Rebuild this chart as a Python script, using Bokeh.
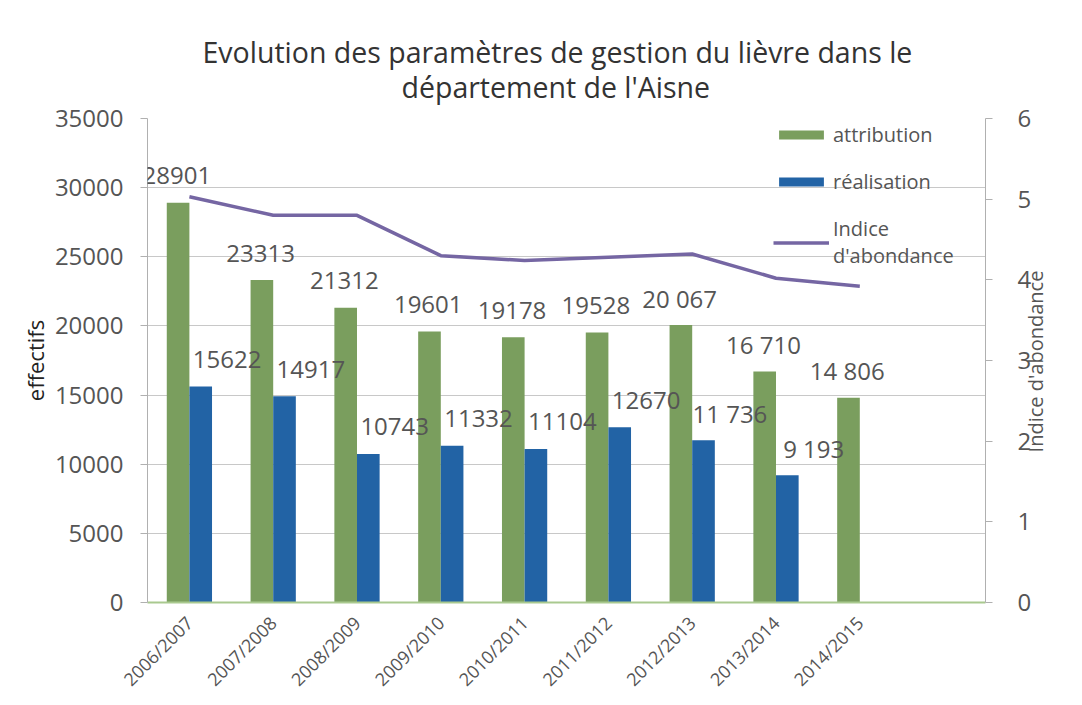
import math
import json
from bokeh.plotting import figure
from bokeh.models import (FactorRange, Range1d, LinearAxis, Legend, LegendItem,
                          ColumnDataSource, LabelSet, FixedTicker, Title,
                          CustomJSTickFormatter)
from bokeh.transform import dodge
from bokeh.core.properties import value
from bokeh.embed import file_html
from bokeh.resources import INLINE

# ---- data ----
seasons = ["2006/2007", "2007/2008", "2008/2009", "2009/2010", "2010/2011",
           "2011/2012", "2012/2013", "2013/2014", "2014/2015"]
attribution = [28901, 23313, 21312, 19601, 19178, 19528, 20067, 16710, 14806]
attribution_labels = ["28901", "23313", "21312", "19601", "19178", "19528",
                      "20 067", "16 710", "14 806"]
realisation = [15622, 14917, 10743, 11332, 11104, 12670, 11736, 9193]
realisation_labels = ["15622", "14917", "10743", "11332", "11104", "12670",
                      "11 736", "9 193"]
indice = [5.03, 4.80, 4.80, 4.30, 4.24, 4.28, 4.32, 4.02, 3.92]
left_ticks = [0, 5000, 10000, 15000, 20000, 25000, 30000, 35000]
right_ticks = [0, 1, 2, 3, 4, 5, 6]
title_lines = ["Evolution des paramètres de gestion du lièvre dans le",
               "département de l'Aisne"]
right_label = "Indice d'abondance"

FONT = "Open Sans"
GREEN = "#7a9e5e"
BLUE = "#2263a5"
PURPLE = "#7566a3"
GREY_TXT = "#555555"

factors = seasons + [" "]

src_a = ColumnDataSource(dict(x=seasons, y=attribution, lab=attribution_labels))
src_r = ColumnDataSource(dict(x=seasons[:len(realisation)], y=realisation,
                              lab=realisation_labels))
src_i = ColumnDataSource(dict(x=seasons, y=indice))

p = figure(width=1080, height=703, x_range=FactorRange(factors=factors),
           y_range=Range1d(0, 35000), output_backend="svg", toolbar_location=None,
           min_border_left=147, min_border_right=95, min_border_top=118,
           min_border_bottom=101, title=None)
p.extra_y_ranges = {"ind": Range1d(0, 6)}
p.outline_line_color = None
p.background_fill_color = "white"
p.border_fill_color = "white"

# title (two lines, stacked outward from the frame; a thin spacer first)
spacer = Title(text=" ", text_font_size="1px", standoff=10)
t2 = Title(text=title_lines[1], align="left", offset=254, text_font=FONT,
           text_font_size="28.5px", text_font_style="normal", text_color="#333333",
           standoff=0)
t1 = Title(text=title_lines[0], align="left", offset=55, text_font=FONT,
           text_font_size="28.5px", text_font_style="normal", text_color="#333333",
           standoff=-10)
p.add_layout(spacer, "above")
p.add_layout(t2, "above")
p.add_layout(t1, "above")

# bars
ra = p.vbar(x=dodge("x", -0.135, range=p.x_range), top="y", width=0.27,
            source=src_a, fill_color=GREEN, line_color=None)
rr = p.vbar(x=dodge("x", 0.135, range=p.x_range), top="y", width=0.27,
            source=src_r, fill_color=BLUE, line_color=None)
rl = p.line(x="x", y="y", source=src_i, y_range_name="ind",
            line_color=PURPLE, line_width=3.5)

# data labels
la = LabelSet(x=dodge("x", -0.15, range=p.x_range), y="y", text="lab", source=src_a,
              text_align="center", text_baseline="middle", y_offset=27,
              text_font=value(FONT), text_font_size=value("24px"),
              text_color=GREY_TXT)
lr = LabelSet(x=dodge("x", 0.45, range=p.x_range), y="y", text="lab", source=src_r,
              text_align="center", text_baseline="middle", y_offset=27,
              text_font=value(FONT), text_font_size=value("24px"),
              text_color=GREY_TXT)
p.add_layout(la)
p.add_layout(lr)

# grid
p.xgrid.grid_line_color = None
p.ygrid.grid_line_color = "#c8c8c8"
p.ygrid.grid_line_width = 1

# left axis
ya = p.yaxis[0]
ya.ticker = FixedTicker(ticks=left_ticks)
ya.axis_label = "effectifs"
ya.axis_label_text_font = FONT
ya.axis_label_text_font_size = "22px"
ya.axis_label_text_font_style = "normal"
ya.axis_label_text_color = "#222222"
ya.axis_label_standoff = 2
ya.major_label_text_font = FONT
ya.major_label_text_font_size = "24px"
ya.major_label_text_color = GREY_TXT
ya.major_label_standoff = 17
ya.axis_line_color = "#b0b0b0"
ya.major_tick_line_color = "#b0b0b0"
ya.major_tick_out = 7
ya.major_tick_in = 0
ya.minor_tick_line_color = None

# right axis
yr = LinearAxis(y_range_name="ind", ticker=FixedTicker(ticks=right_ticks))
yr.major_label_text_font = FONT
yr.major_label_text_font_size = "24px"
yr.major_label_text_color = GREY_TXT
yr.major_label_standoff = 25
yr.axis_line_color = "#b0b0b0"
yr.major_tick_line_color = "#b0b0b0"
yr.major_tick_out = 7
yr.major_tick_in = 0
yr.minor_tick_line_color = None
p.add_layout(yr, "right")

# right axis title, reading bottom to top: drawn as the single label of a
# bare outer axis whose text starts low enough to be centred on the axis
yr2 = LinearAxis(y_range_name="ind", ticker=FixedTicker(ticks=[1.86]),
                 formatter=CustomJSTickFormatter(code="return " + json.dumps(right_label) + ";"))
yr2.major_label_orientation = math.pi / 2
yr2.major_label_text_font = FONT
yr2.major_label_text_font_size = "20px"
yr2.major_label_text_color = GREY_TXT
yr2.major_label_standoff = 1
yr2.axis_line_color = None
yr2.major_tick_line_color = None
yr2.major_tick_out = 0
yr2.major_tick_in = 0
yr2.minor_tick_line_color = None
p.add_layout(yr2, "right")

# x axis
xa = p.xaxis[0]
xa.major_label_orientation = math.pi / 4
xa.major_label_text_font = FONT
xa.major_label_text_font_size = "18px"
xa.major_label_text_color = GREY_TXT
xa.major_label_standoff = 11
xa.major_tick_line_color = None
xa.axis_line_color = "#a9c98f"
xa.axis_line_width = 2

# legend
legend = Legend(items=[
    LegendItem(label="attribution", renderers=[ra]),
    LegendItem(label="réalisation", renderers=[rr]),
    LegendItem(label="Indice\nd'abondance", renderers=[rl]),
], location=(626, 333), orientation="vertical",
    glyph_width=56, glyph_height=11, label_standoff=4, spacing=20,
    padding=0, margin=0, border_line_color=None, background_fill_alpha=0,
    label_text_font=FONT, label_text_font_size="20px", label_text_color=GREY_TXT)
p.add_layout(legend, "center")

open("out.html", "w").write(file_html(p, INLINE))
